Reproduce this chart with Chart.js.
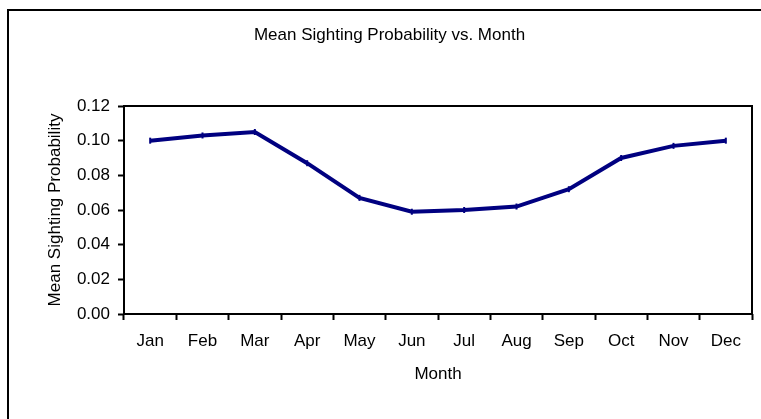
<!DOCTYPE html>
<html>
<head>
<meta charset="utf-8">
<script src="https://cdn.jsdelivr.net/npm/chart.js@4/dist/chart.umd.min.js"></script>
<style>
  html, body { margin: 0; padding: 0; background: #fff; }
  #wrap { position: relative; width: 761px; height: 419px; overflow: hidden; }
</style>
</head>
<body>
<div id="wrap"><canvas id="c" width="761" height="419"></canvas></div>
<script>
// Monthly mean sighting probability
const months = ['Jan', 'Feb', 'Mar', 'Apr', 'May', 'Jun', 'Jul', 'Aug', 'Sep', 'Oct', 'Nov', 'Dec'];
const sightingProbability = [0.100, 0.103, 0.105, 0.087, 0.067, 0.059, 0.060, 0.062, 0.072, 0.090, 0.097, 0.100];
const yTicks = [0.00, 0.02, 0.04, 0.06, 0.08, 0.10, 0.12];

const FONT = { family: '"Liberation Sans", Arial, sans-serif', size: 17 };

// Outer frame (left and top edges) and the plot-area box
const frames = {
  id: 'frames',
  beforeDraw(chart) {
    const ctx = chart.ctx;
    ctx.save();
    ctx.fillStyle = '#fff';
    ctx.fillRect(0, 0, chart.width, chart.height);
    ctx.fillStyle = '#000';
    ctx.fillRect(7, 9, 2, chart.height);
    ctx.fillRect(7, 9, chart.width, 2);
    ctx.restore();
  },
  afterDatasetsDraw(chart) {
    const { ctx, chartArea: a } = chart;
    ctx.save();
    ctx.strokeStyle = '#000';
    ctx.lineWidth = 2;
    ctx.strokeRect(a.left, a.top, a.right - a.left, a.bottom - a.top);
    ctx.restore();
  }
};

new Chart(document.getElementById('c'), {
  type: 'line',
  data: {
    labels: months,
    datasets: [{
      data: sightingProbability,
      borderColor: '#000080',
      backgroundColor: '#000080',
      borderWidth: 4,
      tension: 0,
      pointStyle: 'line',
      rotation: 90,
      pointRadius: 3,
      pointBorderWidth: 2,
      pointBorderColor: '#000080'
    }]
  },
  options: {
    responsive: false,
    animation: false,
    devicePixelRatio: 1,
    layout: { padding: { left: 27, right: 9, top: 0, bottom: 0 } },
    plugins: {
      legend: { display: false },
      tooltip: { enabled: false },
      title: {
        display: true,
        text: 'Mean Sighting Probability vs. Month',
        color: '#000',
        font: { ...FONT, weight: 'normal' },
        padding: { top: 24.8, bottom: 60.8 }
      }
    },
    scales: {
      x: {
        type: 'category',
        offset: true,
        afterFit(s) { s.height = 105; },
        grid: {
          offset: true,
          drawOnChartArea: false,
          drawTicks: true,
          tickLength: 6,
          tickWidth: 2,
          tickColor: '#000'
        },
        border: { display: false },
        ticks: { color: '#000', font: FONT, padding: 11, maxRotation: 0, autoSkip: false },
        title: {
          display: true,
          text: 'Month',
          color: '#000',
          font: FONT,
          padding: { top: 0, bottom: 34.8 }
        }
      },
      y: {
        min: yTicks[0],
        max: yTicks[yTicks.length - 1],
        afterFit(s) { s.width = 124 - 27; },
        afterBuildTicks(s) { s.ticks = yTicks.map(v => ({ value: v })); },
        grid: {
          drawOnChartArea: false,
          drawTicks: true,
          tickLength: 6,
          tickWidth: 2,
          tickColor: '#000'
        },
        border: { display: false },
        ticks: {
          color: '#000',
          font: FONT,
          padding: 8,
          callback: v => Number(v).toFixed(2)
        },
        title: {
          display: true,
          text: 'Mean Sighting Probability',
          color: '#000',
          font: FONT,
          padding: { top: 18.3, bottom: 0 }
        }
      }
    }
  },
  plugins: [frames]
});
</script>
</body>
</html>
